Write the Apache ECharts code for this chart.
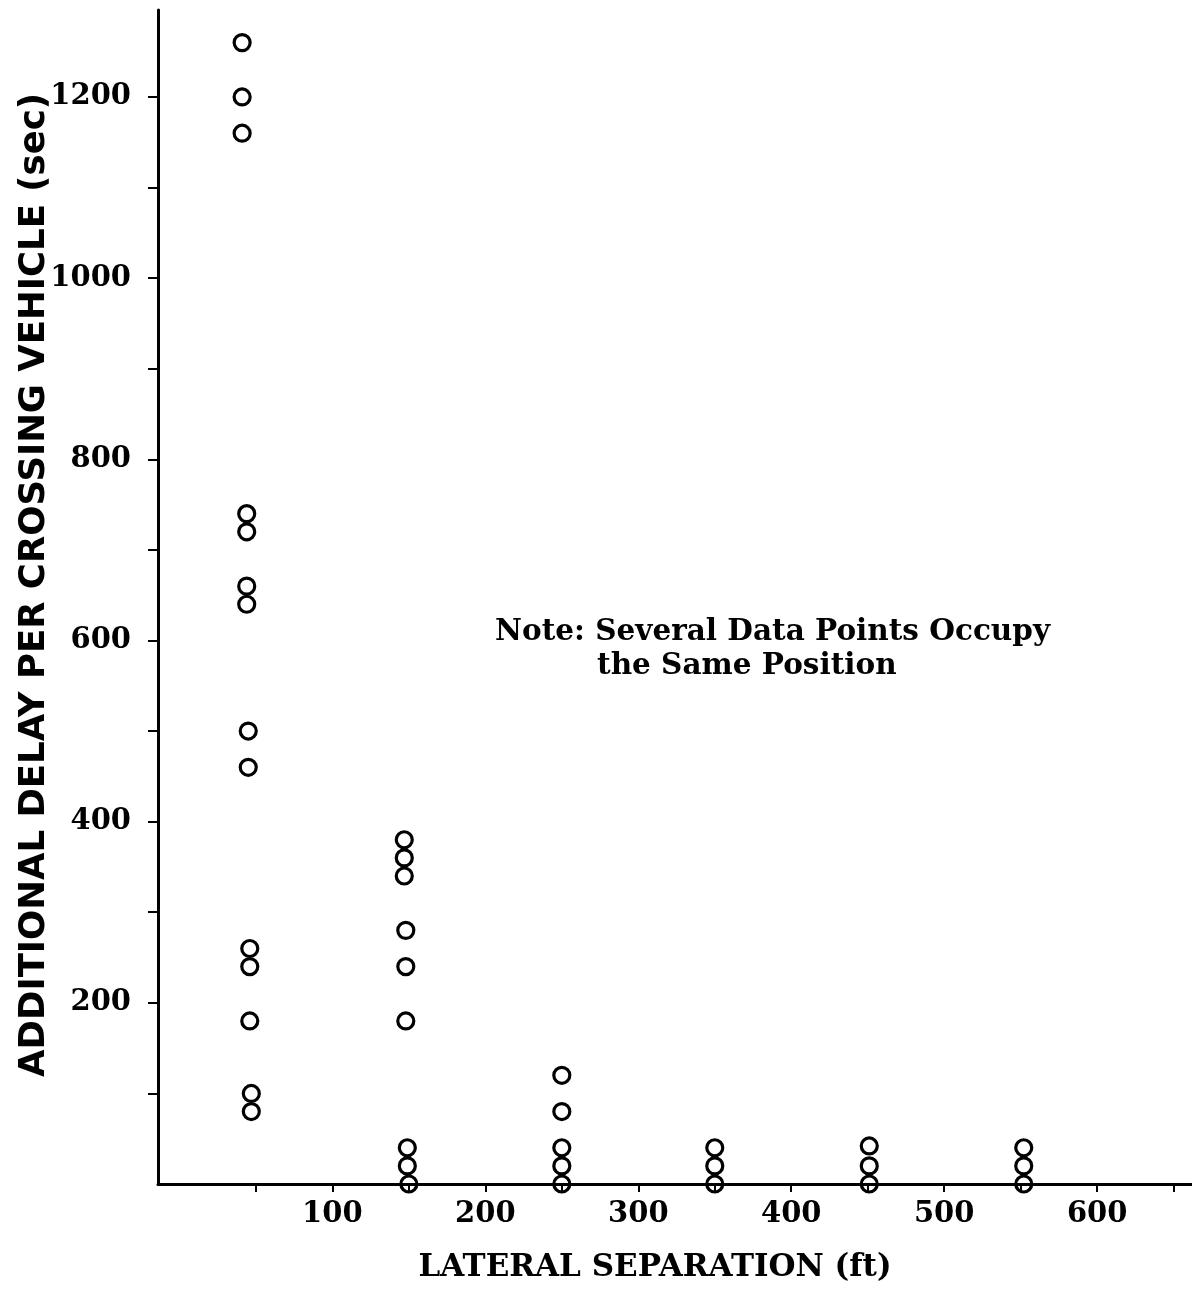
<!DOCTYPE html>
<html>
<head>
    <meta charset="utf-8"/>
    <title>Additional delay vs lateral separation</title>
    <script src="https://cdn.jsdelivr.net/npm/echarts@6/dist/echarts.min.js"></script>
    <style>
        html, body { margin: 0; padding: 0; background: #fff; }
        #chart { width: 1192px; height: 1290px; }
    </style>
</head>
<body>
<div id="chart"></div>
<script>
    // lateral separation (ft) of each plotted point
    var sepX = [41, 41, 41, 44, 44, 44, 44, 45, 45, 46, 46, 46, 47, 47,
        147, 147, 147, 148, 148, 148, 149, 149, 150,
        250, 250, 250, 250, 250,
        350, 350, 350,
        451, 451, 451,
        552, 552, 552];
    // additional delay per crossing vehicle (sec)
    var delaySec = [1260, 1200, 1160, 740, 720, 660, 640, 500, 460, 260, 240, 180, 100, 80,
        380, 360, 340, 280, 240, 180, 40, 20, 0,
        120, 80, 40, 20, 0,
        40, 20, 0,
        42, 20, 0,
        40, 20, 0];

    var xTicks = [50, 100, 150, 200, 250, 300, 350, 400, 450, 500, 550, 600, 650];
    var xLabels = [100, 200, 300, 400, 500, 600];
    var yTicks = [100, 200, 300, 400, 500, 600, 700, 800, 900, 1000, 1100, 1200];
    var yLabels = [200, 400, 600, 800, 1000, 1200];
    var noteLines = ['Note: Several Data Points Occupy', 'the Same Position'];

    var points = [];
    for (var i = 0; i < sepX.length; i++) {
        points.push([sepX[i], delaySec[i]]);
    }

    var serif = '"DejaVu Serif", serif';
    var plain = function (v) { return String(v); };
    var chart = echarts.init(document.getElementById('chart'), null, {renderer: 'canvas'});
    var option = {
        backgroundColor: '#fff',
        animation: false,
        grid: {left: 158, right: 0, top: 10, bottom: 106, containLabel: false, outerBoundsMode: 'none'},
        xAxis: {
            type: 'value',
            min: -14,
            max: 662,
            name: 'LATERAL SEPARATION (ft)',
            nameLocation: 'middle',
            nameGap: 68,
            nameMoveOverlap: false,
            nameTextStyle: {
                fontFamily: serif, fontWeight: 'bold', fontSize: 31, color: '#000',
                padding: [0, 40, 0, 0]
            },
            splitLine: {show: false},
            axisLine: {show: true, onZero: false, lineStyle: {color: '#000', width: 3}},
            axisTick: {show: true, inside: false, length: 8, customValues: xTicks,
                lineStyle: {color: '#000', width: 2}},
            axisLabel: {customValues: xLabels, formatter: plain, margin: 16, fontFamily: serif,
                fontWeight: 'bold', fontSize: 29, color: '#000'}
        },
        yAxis: {
            type: 'value',
            min: 0,
            max: 1296,
            name: 'ADDITIONAL DELAY PER CROSSING VEHICLE (sec)',
            nameLocation: 'middle',
            nameGap: 105,
            nameMoveOverlap: false,
            nameRotate: 90,
            nameTextStyle: {
                fontFamily: '"DejaVu Sans", sans-serif', fontWeight: 'bold', fontSize: 35.5, color: '#000',
                padding: [0, 0, 0, 24]
            },
            splitLine: {show: false},
            axisLine: {show: true, onZero: false, lineStyle: {color: '#000', width: 3}},
            axisTick: {show: true, inside: false, length: 10, customValues: yTicks,
                lineStyle: {color: '#000', width: 2}},
            axisLabel: {customValues: yLabels, formatter: plain, margin: 27, fontFamily: serif,
                fontWeight: 'bold', fontSize: 29, color: '#000'}
        },
        graphic: [
            {type: 'text', left: 495, top: 617,
                style: {text: noteLines[0], font: 'bold 29.5px ' + serif, fill: '#000'}},
            {type: 'text', left: 597, top: 651,
                style: {text: noteLines[1], font: 'bold 29.5px ' + serif, fill: '#000'}}
        ],
        series: [{
            type: 'scatter',
            data: points,
            symbol: 'circle',
            symbolSize: 16,
            itemStyle: {color: 'transparent', borderColor: '#000', borderWidth: 3.2, opacity: 1},
            clip: false
        }]
    };
    chart.setOption(option);
</script>
</body>
</html>
